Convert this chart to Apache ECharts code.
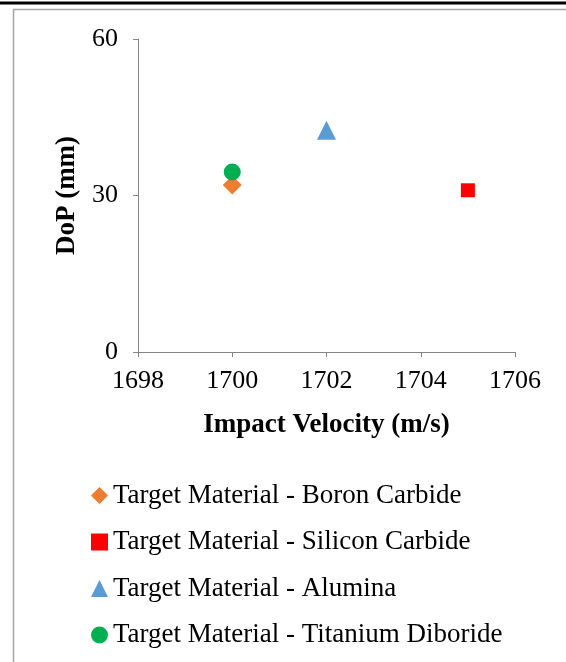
<!DOCTYPE html>
<html><head><meta charset="utf-8">
<script src="https://cdn.jsdelivr.net/npm/echarts@6/dist/echarts.min.js"></script>
<style>html,body{margin:0;padding:0;background:#fff}#c{width:566px;height:662px}</style>
</head><body><div id="c"></div>
<script>
const seriesNames = ['Target Material - Boron Carbide','Target Material - Silicon Carbide','Target Material - Alumina','Target Material - Titanium Diboride'];
const velocities = [1700, 1705, 1702, 1700];
const dopValues = [32.0, 31.0, 42.5, 34.5];
const symbols = ['diamond','rect','triangle','circle'];
const symbolSizes = [19, 14, 19, 17];
const colors = ['#ED7D31','#FF0000','#5B9BD5','#00B050'];
const xTicks = [1698, 1700, 1702, 1704, 1706];
const yTicks = [0, 30, 60];

const font = '"Liberation Serif", "Times New Roman", serif';
const chart = echarts.init(document.getElementById('c'));
const axisColor = '#868686';
chart.setOption({
  animation: false,
  textStyle: {fontFamily: font},
  graphic: [
    {type:'line', shape:{x1:0,y1:3,x2:566,y2:3}, style:{stroke:'#000',lineWidth:3}},
    {type:'polyline', shape:{points:[[13.5,662],[13.5,9.5],[566,9.5]]}, style:{stroke:'#a6a6a6',lineWidth:1.5, fill:null}}
  ],
  grid: {left:138, right:51, top:39, bottom:310, containLabel:false},
  xAxis: {
    type:'value', min:xTicks[0], max:xTicks[xTicks.length-1], interval:2,
    name:'Impact Velocity (m/s)', nameLocation:'middle', nameGap:60,
    nameTextStyle:{fontFamily:font, fontWeight:'bold', fontSize:27, color:'#000'},
    axisLine:{show:true, lineStyle:{color:axisColor, width:1}},
    axisTick:{show:true, length:5, lineStyle:{color:axisColor}},
    axisLabel:{fontFamily:font, fontSize:26, color:'#000', margin:16, formatter:v=>String(v)},
    splitLine:{show:false}
  },
  yAxis: {
    type:'value', min:yTicks[0], max:yTicks[yTicks.length-1], interval:30,
    name:'DoP (mm)', nameLocation:'middle', nameGap:57, nameRotate:90,
    nameTextStyle:{fontFamily:font, fontWeight:'bold', fontSize:27, color:'#000'},
    axisLine:{show:true, lineStyle:{color:axisColor, width:1}},
    axisTick:{show:true, length:5, lineStyle:{color:axisColor}},
    axisLabel:{fontFamily:font, fontSize:26, color:'#000', margin:20, formatter:v=>String(v)},
    splitLine:{show:false}
  },
  legend: {
    orient:'vertical', left:86, top:477, itemGap:19.5, itemWidth:17, itemHeight:17,
    textStyle:{fontFamily:font, fontSize:27, color:'#000'},
    data: seriesNames.map((n,i)=>({name:n, icon:symbols[i]}))
  },
  series: seriesNames.map((n,i)=>({
    name:n, type:'scatter', symbol:symbols[i], symbolSize:symbolSizes[i],
    itemStyle:{color:colors[i], opacity:1},
    data:[[velocities[i], dopValues[i]]]
  }))
});
</script></body></html>
